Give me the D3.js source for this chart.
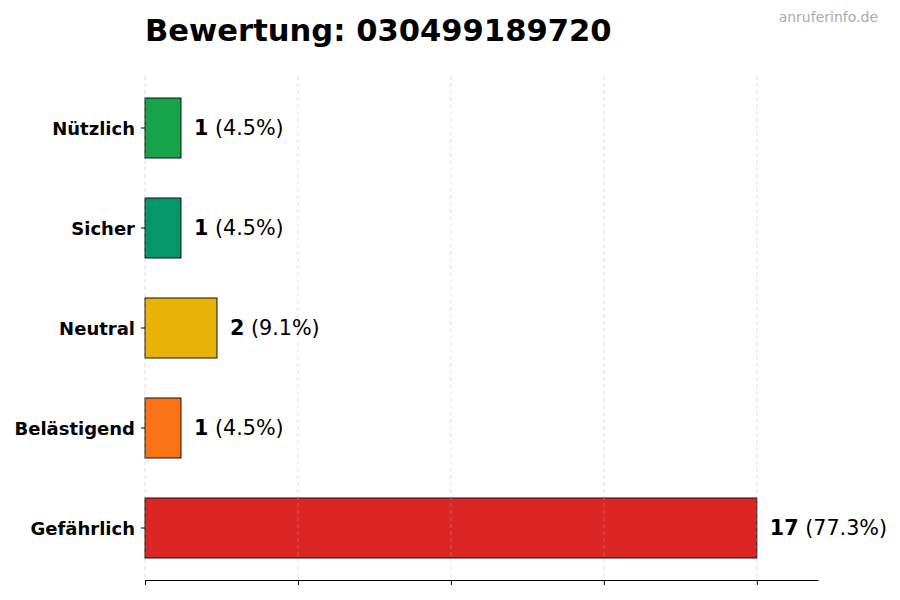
<!DOCTYPE html>
<html><head><meta charset="utf-8">
<script src="https://cdn.jsdelivr.net/npm/d3@7"></script>
<style>body{margin:0;background:#fff}svg{display:block}</style>
</head><body>
<svg id="c" width="900" height="600"></svg>
<script>
const categories = ["Nützlich","Sicher","Neutral","Belästigend","Gefährlich"];
const counts = [1,1,2,1,17];
const percents = ["4.5%","4.5%","9.1%","4.5%","77.3%"];
const colors = ["#16a34a","#059669","#eab308","#f97316","#dc2626"];
const xTicks = [0,4.25,8.5,12.75,17];

(function(){
const svg = d3.select("#c");
const font = "DejaVu Sans, sans-serif";
const mLeft = 145, mRight = 818, mTop = 76, mBottom = 580;
const x = d3.scaleLinear().domain([0, 18.7]).range([mLeft, mRight]);
const y = d3.scaleBand().domain(categories).range([78, 578]).paddingInner(0.4).paddingOuter(0.2);

// bars
svg.append("g").selectAll("rect").data(categories).join("rect")
  .attr("x", x(0)).attr("y", d => y(d))
  .attr("width", (d,i) => x(counts[i]) - x(0))
  .attr("height", y.bandwidth())
  .attr("fill", (d,i) => colors[i])
  .attr("stroke", "#111").attr("stroke-width", 1);

// gridlines
svg.append("g").selectAll("line").data(xTicks).join("line")
  .attr("x1", d => x(d)).attr("x2", d => x(d))
  .attr("y1", mTop).attr("y2", mBottom)
  .attr("stroke", "#b0b0b0").attr("stroke-opacity", 0.5)
  .attr("stroke-dasharray", "4,3").attr("stroke-width", 0.8);

// bottom axis
const xa = svg.append("g").attr("transform", `translate(0,${mBottom})`)
  .call(d3.axisBottom(x).tickValues(xTicks).tickFormat("").tickSize(5).tickSizeOuter(0));
xa.select(".domain").attr("stroke", "#000").attr("stroke-width", 1);
xa.selectAll(".tick line").attr("stroke", "#000");

// left axis (ticks + labels, no spine)
const ya = svg.append("g").attr("transform", `translate(${mLeft},0)`)
  .call(d3.axisLeft(y).tickSize(4).tickPadding(6));
ya.select(".domain").remove();
ya.selectAll(".tick line").attr("stroke", "#000");
ya.selectAll(".tick text").attr("font-family", font).attr("font-weight", "bold")
  .attr("font-size", 18).attr("fill", "#000").attr("dy", "0.4em");

// value labels
const lab = svg.append("g").selectAll("text").data(categories).join("text")
  .attr("x", (d,i) => x(counts[i]) + 13)
  .attr("y", d => y(d) + y.bandwidth()/2)
  .attr("dy", "0.36em")
  .attr("font-family", font).attr("font-size", 20.7).attr("fill", "#000");
lab.append("tspan").attr("font-weight", "bold").text((d,i) => counts[i]);
lab.append("tspan").text((d,i) => " (" + percents[i] + ")");

// title
svg.append("text").attr("x", mLeft).attr("y", 41)
  .attr("font-family", font).attr("font-weight", "bold").attr("font-size", 30.6)
  .attr("fill", "#000").text("Bewertung: 030499189720");

// watermark
svg.append("text").attr("x", 878).attr("y", 22).attr("text-anchor", "end")
  .attr("font-family", font).attr("font-size", 14).attr("fill", "#aaaaaa")
  .text("anruferinfo.de");
})();
</script>
</body></html>
